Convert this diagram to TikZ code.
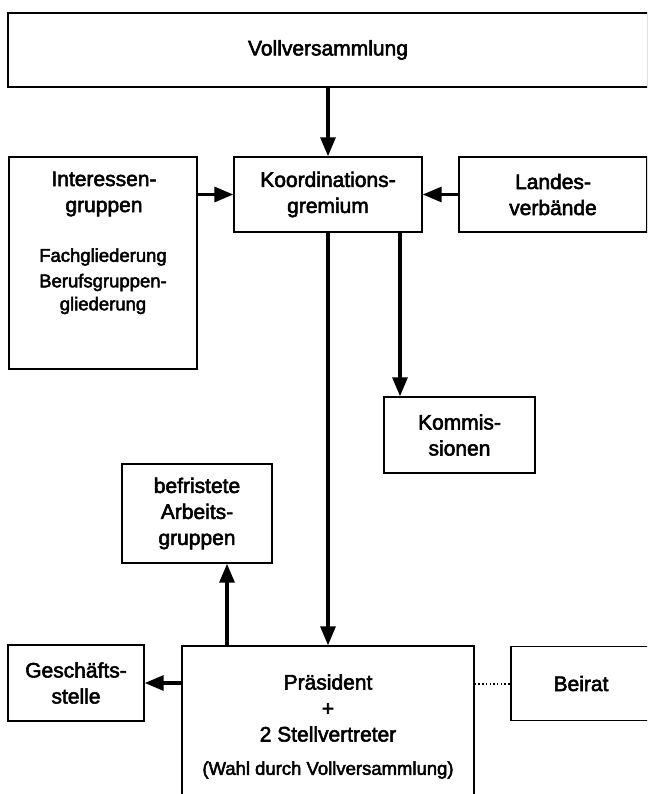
\documentclass[tikz,border=0pt]{standalone}
\usepackage{fontspec}
\setmainfont{Liberation Sans}[BoldFont={Liberation Sans},BoldFeatures={FakeBold=2.6}]
\usetikzlibrary{arrows.meta}
\begin{document}
\begin{tikzpicture}[x=1pt,y=-1pt,
  box/.style={draw,line width=1.4pt,inner sep=0pt},
  big/.style={font=\fontsize{21}{26}\selectfont\bfseries,align=center},
  small/.style={font=\fontsize{18.5}{23}\selectfont\bfseries,align=center},
  arr/.style={line width=3.2pt,-{Triangle[length=19pt,width=15pt]}}]
\useasboundingbox (0,0) rectangle (647,794);
\clip (0,0) rectangle (647,794);

\node[box,big,minimum width=640pt,minimum height=74pt] (voll) at (328,50) {Vollversammlung};
\node[box,big,minimum width=188pt,minimum height=75pt] (koord) at (328,194.5) {Koordinations-\\gremium};
\node[box,minimum width=188pt,minimum height=212pt] (inter) at (103,263) {};
\node[big] (intertitle) at (104,194) {Interessen-\\gruppen};
\node[small] (interfach) at (103,257) {Fachgliederung};
\node[small] (interberuf) at (103,294) {Berufsgruppen-\\gliederung};
\node[box,big,minimum width=188pt,minimum height=75pt] (landes) at (553,194.5) {Landes-\\verbände};

\node[box,big,minimum width=151pt,minimum height=76pt] (komm) at (459.5,435) {Kommis-\\sionen};
\node[box,big,minimum width=150pt,minimum height=99pt] (befr) at (197,513.5) {befristete\\Arbeits-\\gruppen};

\node[box,big,minimum width=136pt,minimum height=76pt] (ges) at (76,683) {Geschäfts-\\stelle};
\node[box,minimum width=292pt,minimum height=174pt] (praes) at (328,733) {};
\node[big] (praestext) at (328,708) {Präsident\\+\\2 Stellvertreter};
\node[small] (praeswahl) at (328,770) {(Wahl durch Vollversammlung)};
\node[box,big,minimum width=140pt,minimum height=74pt] (beirat) at (581,683.5) {Beirat};

% Verbindungen
\draw[arr] (voll.south) -- (koord.north);
\draw[arr] (koord.west -| inter.east) -- (koord.west);
\draw[arr] (landes.west) -- (koord.east);
\draw[arr] (koord.south) -- (praes.north);
\draw[arr] ([xshift=72pt]koord.south) -- ([xshift=72pt]koord.south |- komm.north);
\draw[arr] ([xshift=30pt]befr.south |- praes.north) -- ([xshift=30pt]befr.south);
\draw[arr] (praes.west |- ges.east) -- (ges.east);
\draw[line width=2pt,dash pattern=on 1.5pt off 2.2pt] (praes.east |- beirat.west) -- (beirat.west);
\end{tikzpicture}
\end{document}
